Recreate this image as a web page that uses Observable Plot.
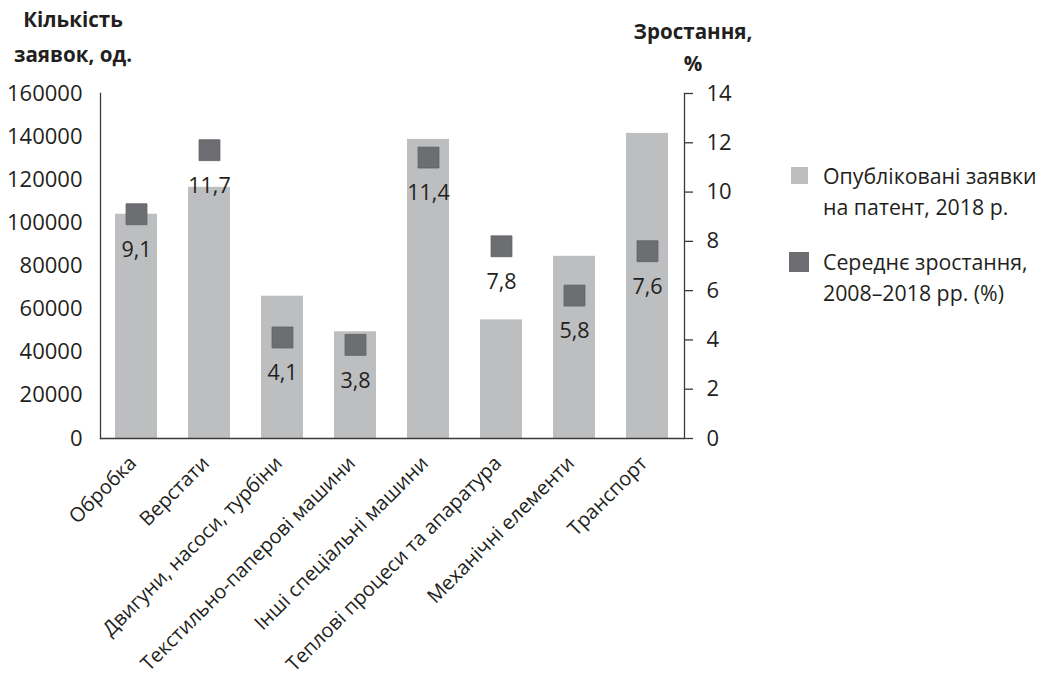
<!DOCTYPE html>
<html>
<head>
<meta charset="utf-8">
<script src="https://cdn.jsdelivr.net/npm/d3@7"></script>
<script src="https://cdn.jsdelivr.net/npm/@observablehq/plot@0.6"></script>
<style>
  body { margin: 0; background: #fff; }
  #wrap { position: relative; width: 1042px; height: 686px; font-family: "Open Sans", sans-serif; color: #231f20; }
  #wrap svg { position: absolute; left: 0; top: 0; }
  .abs { position: absolute; white-space: nowrap; }
  .ttl { font-weight: bold; font-size: 20.6px; text-align: center; }
  .leg { font-size: 21.3px; line-height: 31px; }
  .sw { position: absolute; }
</style>
</head>
<body>
<div id="wrap">
  <div class="abs ttl" style="left:0;top:2px;width:146px;line-height:35px;">Кількість<br>заявок, од.</div>
  <div class="abs ttl" style="left:613px;top:15px;width:160px;line-height:32px;">Зростання,<br>%</div>
  <div class="sw" style="left:791px;top:167px;width:17px;height:17px;background:#bcbec0;"></div>
  <div class="abs leg" style="left:823px;top:160px;">Опубліковані заявки<br>на патент, 2018 р.</div>
  <div class="sw" style="left:789px;top:252px;width:20px;height:20px;background:#6d6e71;"></div>
  <div class="abs leg" style="left:823px;top:246px;">Середнє зростання,<br>2008–2018 рр. (%)</div>
</div>
<script>
// ---- data ----
const categories = ["Обробка", "Верстати", "Двигуни, насоси, турбіни", "Текстильно-паперові машини",
  "Інші спеціальні машини", "Теплові процеси та апаратура", "Механічні елементи", "Транспорт"];
const applications = [104000, 116500, 66000, 49500, 138700, 55000, 84500, 141500];
const growth = [9.1, 11.7, 4.1, 3.8, 11.4, 7.8, 5.8, 7.6];
const leftTicks = [0, 20000, 40000, 60000, 80000, 100000, 120000, 140000, 160000];
const rightTicks = [0, 2, 4, 6, 8, 10, 12, 14];

const leftMax = 160000, rightMax = 14;
const k = leftMax / rightMax;
const rows = categories.map((c, i) => ({cat: c, apps: applications[i], growth: growth[i]}));
const txt = "#231f20", axisCol = "#3a3a3a";

const chart = Plot.plot({
  width: 1042,
  height: 686,
  marginLeft: 100,
  marginRight: 358,
  marginTop: 93,
  marginBottom: 248,
  style: {fontFamily: "Open Sans, sans-serif", fontSize: "20px", color: txt, background: "transparent"},
  x: {domain: categories, paddingInner: 0.42, paddingOuter: 0.21, axis: null},
  y: {domain: [0, leftMax], axis: null},
  marks: [
    Plot.barY(rows, {x: "cat", y: "apps", fill: "#bcbec0"}),
    Plot.axisY({ticks: leftTicks, tickSize: 0, tickPadding: 18, tickFormat: d => String(d), label: null, fontSize: 22, fill: txt}),
    Plot.axisY({anchor: "right", ticks: rightTicks.map(v => v * k), tickSize: 8, tickPadding: 14, label: null,
      tickFormat: d => String(Math.round(d / k)), fontSize: 22, fill: txt, stroke: axisCol, strokeWidth: 1.3}),
    Plot.frame({anchor: "left", stroke: axisCol, strokeWidth: 1.3}),
    Plot.frame({anchor: "right", stroke: axisCol, strokeWidth: 1.3}),
    Plot.ruleY([0], {stroke: axisCol, strokeWidth: 1.5}),
    Plot.dot(rows, {x: "cat", y: d => d.growth * k, symbol: "square", r: 11.8, fill: "#6d6e71", stroke: "#5e5f62", strokeWidth: 0.8}),
    Plot.text(rows, {x: "cat", y: d => d.growth * k, text: d => d.growth.toFixed(1).replace(".", ","),
      dy: 36, fontSize: 21.5, fill: txt, lineAnchor: "middle"}),
    Plot.text(categories, {x: d => d, frameAnchor: "bottom", rotate: -45, textAnchor: "end", lineAnchor: "bottom",
      dx: 1, dy: 26, fontSize: 20, fill: txt})
  ]
});
document.getElementById("wrap").prepend(chart);
</script>
</body>
</html>
